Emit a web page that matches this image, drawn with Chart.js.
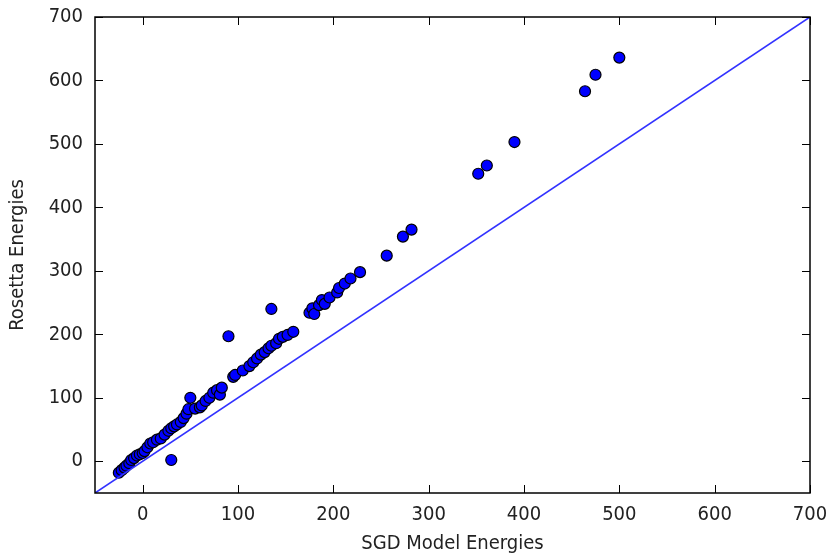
<!DOCTYPE html>
<html>
<head>
<meta charset="utf-8">
<script src="https://cdn.jsdelivr.net/npm/chart.js@4/dist/chart.umd.min.js"></script>
<style>
html,body{margin:0;padding:0;background:#fff;}
#wrap{width:830px;height:560px;}
</style>
</head>
<body>
<div id="wrap"><canvas id="c" width="830" height="560"></canvas></div>
<script>
const sgdEnergies = [-25,-22,-19,-17,-14,-12,-9,-6,-3,0,2,5,8,11,15,19,23,27,30,33,36,40,43,46,48,50,30,55,60,62,66,70,74,78,81,83,90,95,97,105,112,116,120,124,128,132,135,135,140,143,147,152,158,175,178,180,185,188,191,196,204,206,212,218,228,256,273,282,352,361,390,464,475,500];
const rosettaEnergies = [-18,-14,-10,-7,-3,2,5,9,11,13,16,22,28,30,34,36,42,48,52,55,58,62,68,75,82,100,2,83,85,88,95,100,108,112,105,116,197,133,136,143,150,156,162,168,172,178,182,240,186,193,196,199,204,234,241,232,246,254,248,258,266,273,280,288,298,324,354,365,453,466,503,583,609,636];
const diagonalX = [-50, 700];
const diagonalY = [-50, 700];
const xTicks = [0,100,200,300,400,500,600,700];
const yTicks = [0,100,200,300,400,500,600,700];

const FONT = '"DejaVu Sans Condensed", "DejaVu Sans", sans-serif';

const frameTicks = {
  id: 'frameTicks',
  afterDraw(chart) {
    const {ctx, chartArea: a, scales} = chart;
    const len = 8;
    ctx.save();
    ctx.strokeStyle = '#000';
    ctx.lineWidth = 1;
    xTicks.forEach(v => {
      const px = Math.round(scales.x.getPixelForValue(v)) + 0.5;
      ctx.beginPath();
      ctx.moveTo(px, a.bottom); ctx.lineTo(px, a.bottom - len);
      ctx.moveTo(px, a.top); ctx.lineTo(px, a.top + len);
      ctx.stroke();
    });
    yTicks.forEach(v => {
      const py = Math.round(scales.y.getPixelForValue(v)) + 0.5;
      ctx.beginPath();
      ctx.moveTo(a.left, py); ctx.lineTo(a.left + len, py);
      ctx.moveTo(a.right, py); ctx.lineTo(a.right - len, py);
      ctx.stroke();
    });
    ctx.lineWidth = 1.5;
    ctx.strokeRect(a.left, a.top, a.right - a.left, a.bottom - a.top);
    ctx.restore();
  }
};

new Chart(document.getElementById('c'), {
  type: 'scatter',
  data: {
    datasets: [
      {
        type: 'line',
        data: diagonalX.map((x, i) => ({x: x, y: diagonalY[i]})),
        borderColor: 'rgba(50,50,255,1)',
        borderWidth: 1.6,
        pointRadius: 0,
        fill: false,
        order: 0
      },
      {
        data: sgdEnergies.map((x, i) => ({x: x, y: rosettaEnergies[i]})),
        backgroundColor: '#0000ff',
        borderColor: '#000',
        borderWidth: 1.2,
        pointRadius: 5.5,
        order: 1
      }
    ]
  },
  options: {
    responsive: false,
    animation: false,
    layout: {padding: {top: 17, right: 20, left: 0, bottom: 0}},
    plugins: {legend: {display: false}, tooltip: {enabled: false}},
    scales: {
      x: {
        type: 'linear',
        min: -50, max: 700,
        afterBuildTicks: s => { s.ticks = xTicks.map(v => ({value: v})); },
        afterFit: s => { s.height = 67; s.paddingLeft = 0; s.paddingRight = 0; },
        grid: {display: false, drawTicks: false},
        border: {display: false},
        ticks: {color: '#222', font: {family: FONT, size: 20}, padding: 10, maxRotation: 0},
        title: {display: true, text: 'SGD Model Energies', color: '#222', font: {family: FONT, size: 20}, padding: {top: 2}}
      },
      y: {
        type: 'linear',
        min: -50, max: 700,
        afterBuildTicks: s => { s.ticks = yTicks.map(v => ({value: v})); },
        afterFit: s => { s.width = 95; s.paddingTop = 0; s.paddingBottom = 0; },
        grid: {display: false, drawTicks: false},
        border: {display: false},
        ticks: {color: '#222', font: {family: FONT, size: 20}, padding: 12},
        title: {display: true, text: 'Rosetta Energies', color: '#222', font: {family: FONT, size: 20}, padding: {top: 6, bottom: 4}}
      }
    }
  },
  plugins: [frameTicks]
});
</script>
</body>
</html>
